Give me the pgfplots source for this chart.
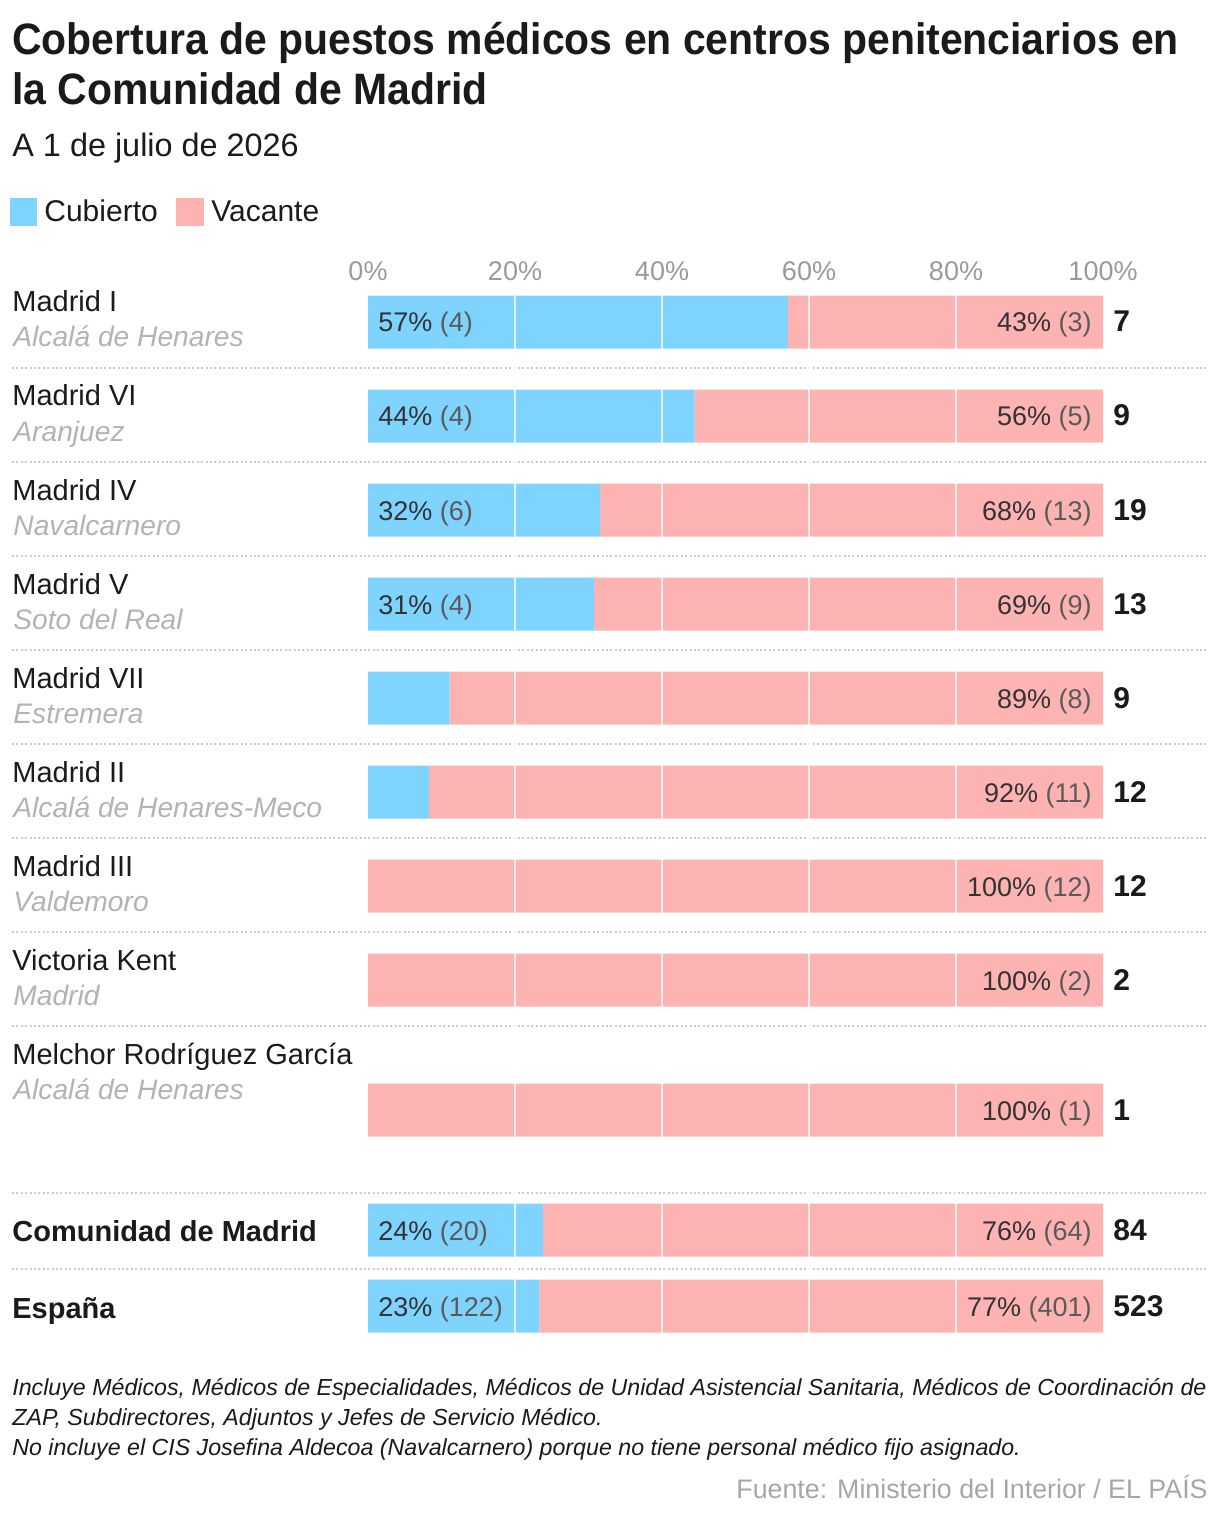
\documentclass[border=0pt]{standalone}
\usepackage{fontspec}
\setmainfont{Liberation Sans}
\newfontfamily\titlefont{Liberation Sans}[FakeStretch=0.93]
\usepackage{pgfplots}
\pgfplotsset{compat=1.18}
\usepackage{pgfplotstable}

\definecolor{cub}{HTML}{7FD4FF}
\definecolor{vac}{HTML}{FEB3B3}
\definecolor{ink}{HTML}{1A1A1A}
\definecolor{place}{HTML}{B3B3B3}
\definecolor{tickc}{HTML}{9A9A9A}
\definecolor{pctc}{HTML}{333333}
\definecolor{cntc}{HTML}{5A5A5A}
\definecolor{sepc}{HTML}{CCCCCC}
\definecolor{srcc}{HTML}{A6A6A6}

\newcommand\titlef{\titlefont\bfseries\fontsize{22}{26}\selectfont}
\newcommand\subf{\fontsize{16.2}{19}\selectfont}
\newcommand\legf{\fontsize{15}{18}\selectfont}
\newcommand\namef{\fontsize{14.5}{17}\selectfont}
\newcommand\placef{\itshape\fontsize{14.1}{17}\selectfont}
\newcommand\tickf{\fontsize{13.5}{16}\selectfont}
\newcommand\valf{\fontsize{13.5}{16}\selectfont}
\newcommand\totf{\bfseries\fontsize{15}{18}\selectfont}
\newcommand\notef{\itshape\fontsize{11.6}{14}\selectfont}
\newcommand\srcf{\fontsize{13.4}{16}\selectfont}

% value label: percentage and count
\newcommand\vl[2]{\textcolor{pctc}{#1\%}~\textcolor{cntc}{(#2)}}
% left label, right label and total of a row, by baseline (px from top)
\newcommand\izq[2]{\node[anchor=base west, inner sep=0, font=\valf] at (378,#1) {#2};}
\newcommand\der[2]{\node[anchor=base east, inner sep=0, font=\valf] at (1092,#1) {#2};}
\newcommand\tot[2]{\node[anchor=base west, inner sep=0, font=\totf, text=ink] at (1113,#1) {#2};}

% row centre (px from top), share covered, share vacant (%)
\pgfplotstableread{
y     cub    vac
322   57.14  42.86
416   44.44  55.56
510   31.58  68.42
604   30.77  69.23
698   11.11  88.89
792    8.33  91.67
886    0     100
980    0     100
1110   0     100
1230  23.81  76.19
1306  23.33  76.67
}\datos

\begin{document}
\begin{tikzpicture}
\begin{scope}[x=0.5pt,y=-0.5pt]
\useasboundingbox (0,0) rectangle (1220,1518);
% heading
\node[anchor=base west, inner sep=0, text=ink, font=\titlef] at (12,55) {Cobertura de puestos médicos en centros penitenciarios en};
\node[anchor=base west, inner sep=0, text=ink, font=\titlef] at (12,105) {la Comunidad de Madrid};
\node[anchor=base west, inner sep=0, text=ink, font=\subf] at (12,157) {A 1 de julio de 2026};
% legend
\fill[cub] (10,198) rectangle (37,226);
\node[anchor=base west, inner sep=0, text=ink, font=\legf] at (44,222) {Cubierto};
\fill[vac] (176,198) rectangle (204,226);
\node[anchor=base west, inner sep=0, text=ink, font=\legf] at (211,222) {Vacante};
% row separators
\foreach \yy in {368,462,556,650,744,838,932,1026,1193,1269}
  \draw[sepc, line width=1pt, dash pattern=on 1pt off 1.2pt] (12,\yy) -- (1208,\yy);
% row names
\foreach \n/\p [count=\i from 0] in {Madrid I/Alcalá de Henares, Madrid VI/Aranjuez, Madrid IV/Navalcarnero, Madrid V/Soto del Real, Madrid VII/Estremera, Madrid II/Alcalá de Henares-Meco, Madrid III/Valdemoro, Victoria Kent/Madrid, Melchor Rodríguez García/Alcalá de Henares}{
  \node[anchor=base west, inner sep=0, text=ink, font=\namef] at (12,312+94*\i) {\n};
  \node[anchor=base west, inner sep=0, text=place, font=\placef] at (13,347+94*\i) {\p};
}
\node[anchor=base west, inner sep=0, text=ink, font=\namef\bfseries] at (12,1241) {Comunidad de Madrid};
\node[anchor=base west, inner sep=0, text=ink, font=\namef\bfseries] at (12,1318) {España};
% notes and source
\node[anchor=base west, inner sep=0, text=ink, font=\notef] at (12,1395) {Incluye Médicos, Médicos de Especialidades, Médicos de Unidad Asistencial Sanitaria, Médicos de Coordinación de};
\node[anchor=base west, inner sep=0, text=ink, font=\notef] at (12,1425) {ZAP, Subdirectores, Adjuntos y Jefes de Servicio Médico.};
\node[anchor=base west, inner sep=0, text=ink, font=\notef] at (12,1455) {No incluye el CIS Josefina Aldecoa (Navalcarnero) porque no tiene personal médico fijo asignado.};
\node[anchor=base east, inner sep=0, text=srcc, font=\srcf] at (1208,1498) {Fuente: Ministerio del Interior / EL PAÍS};
\end{scope}

\begin{axis}[
  at={(184pt,-145pt)}, anchor=north west,
  scale only axis, width=367.5pt, height=525pt,
  xmin=0, xmax=100, ymin=290, ymax=1340, y dir=reverse,
  xbar stacked, bar width=26.5pt,
  axis line style={draw=none}, major tick length=0pt,
  ytick=\empty, xtick={0,20,40,60,80,100},
  xticklabel pos=upper,
  /pgf/number format/assume math mode=true,
  xticklabel={\pgfmathprintnumber{\tick}\%},
  xticklabel style={font=\tickf, text=tickc, anchor=base, yshift=5pt},
  extra x ticks={20,40,60,80}, extra x tick labels={},
  extra x tick style={xmajorgrids=true, major grid style={white, line width=0.8pt, opacity=0.75}},
  axis on top, clip=false,
]
\addplot[fill=cub, draw=none] table[x=cub, y=y] {\datos};
\addplot[fill=vac, draw=none] table[x=vac, y=y] {\datos};
\end{axis}

% value labels over the bars
\begin{scope}[x=0.5pt,y=-0.5pt]
\izq{332}{\vl{57}{4}}  \der{332}{\vl{43}{3}}  \tot{332}{7}
\izq{426}{\vl{44}{4}}  \der{426}{\vl{56}{5}}  \tot{426}{9}
\izq{520}{\vl{32}{6}}  \der{520}{\vl{68}{13}} \tot{520}{19}
\izq{614}{\vl{31}{4}}  \der{614}{\vl{69}{9}}  \tot{614}{13}
\der{708}{\vl{89}{8}}   \tot{708}{9}
\der{802}{\vl{92}{11}}  \tot{802}{12}
\der{896}{\vl{100}{12}} \tot{896}{12}
\der{990}{\vl{100}{2}}  \tot{990}{2}
\der{1120}{\vl{100}{1}} \tot{1120}{1}
\izq{1240}{\vl{24}{20}}  \der{1240}{\vl{76}{64}}  \tot{1240}{84}
\izq{1316}{\vl{23}{122}} \der{1316}{\vl{77}{401}} \tot{1316}{523}
\end{scope}
\end{tikzpicture}
\end{document}
